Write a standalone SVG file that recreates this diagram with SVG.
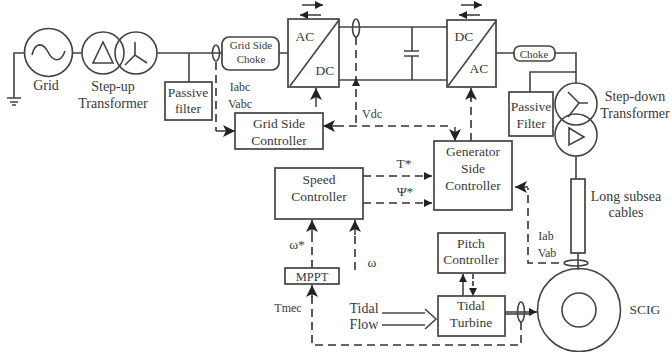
<svg xmlns="http://www.w3.org/2000/svg" width="672" height="352" viewBox="0 0 672 352">
<defs>
<marker id="a" markerUnits="userSpaceOnUse" markerWidth="14" markerHeight="14" refX="12" refY="6" orient="auto"><path d="M0 0L12 6L0 12L3 6Z" fill="#222"/></marker>
<marker id="s" markerUnits="userSpaceOnUse" markerWidth="9" markerHeight="8" refX="8" refY="4" orient="auto"><path d="M0 0L8 4L0 8Z" fill="#222"/></marker>
</defs>
<style>
text{font-family:"Liberation Serif","Times New Roman",serif;fill:#3a3a3a;font-size:13.5px;text-anchor:middle}
.b{fill:#fff;stroke:#444;stroke-width:1.7}
.l{fill:none;stroke:#444;stroke-width:1.6}
.d{fill:none;stroke:#333;stroke-width:1.6;stroke-dasharray:8 5}
.t{font-size:11px}
.w{font-size:14px}
.m{font-size:12px}
</style>
<rect width="672" height="352" fill="#fff"/>
<g id="connectors">
<path class="l" d="M24 53H14V98M7 98H21M10 102H18M12 105H16"/>
<path class="l" d="M72 53H82M157 53H222M189 53V82M279 53H288"/>
<path class="l" d="M339 27H447M339 80H447M412 27V51M412 56V80M404 51H419M404 56H419"/>
<path class="l" d="M496 53H514M555 53H576V83M530 92V72H576"/>
<path class="l" d="M576 156V179M578 253V270"/>
<path class="l" d="M382 313H425M382 325H425M425 309L436 319L425 329"/>
<path class="l" d="M505 312H537" marker-end="url(#s)" stroke-width="2.2"/>
<path class="l" d="M505 314H530"/>
<path class="d" d="M216 62V131"/>
<path class="l" d="M216 131H235" marker-end="url(#a)"/>
<path class="l" d="M316 107V88" marker-end="url(#a)"/>
<path class="d" d="M356 37V126"/>
<path class="l" d="M356 84V78" marker-end="url(#s)"/>
<path class="d" d="M336 126H450"/>
<path class="l" d="M336 126H323" marker-end="url(#a)"/>
<path class="l" d="M455 127V141" marker-end="url(#a)"/>
<path class="d" d="M471 141V95"/>
<path class="l" d="M471 99V88" marker-end="url(#a)"/>
<path class="d" d="M363 176H432" marker-end="url(#s)"/>
<path class="d" d="M363 203H432" marker-end="url(#s)"/>
<path class="d" d="M312 268V232"/>
<path class="l" d="M312 235V220" marker-end="url(#a)"/>
<path class="d" d="M355 270V232"/>
<path class="l" d="M355 235V220" marker-end="url(#a)"/>
<path class="d" d="M521 322V345H312V296"/>
<path class="l" d="M312 298V285" marker-end="url(#a)"/>
<path class="d" d="M559 263H528V188"/>
<path class="l" d="M528 187H515" marker-end="url(#a)"/>
<path class="l" d="M463 296V274" marker-end="url(#s)"/>
<path class="d" d="M473 274V296" marker-end="url(#s)" style="stroke-dasharray:5 2"/>
<path class="l" d="M302 5H323" marker-end="url(#s)"/>
<path class="l" d="M321 15H300" marker-end="url(#s)"/>
<path class="l" d="M461 5H482" marker-end="url(#s)"/>
<path class="l" d="M480 15H459" marker-end="url(#s)"/>
</g>
<g id="grid">
<circle class="b" cx="48.5" cy="52.5" r="24"/>
<path class="l" d="M32 55C35 42 43 42 48 52S61 63 65 51"/>
<text x="46" y="90" class="w">Grid</text>
</g>
<g id="step-up">
<circle class="l" cx="103" cy="53" r="21"/>
<circle class="l" cx="136" cy="53" r="21"/>
<path class="l" d="M93 63H113L103 42ZM135 42V55M125 65L135 55L147 63"/>
<text x="113" y="91" class="w">Step-up</text>
<text x="113" y="108" class="w">Transformer</text>
</g>
<g id="passive-filter-1">
<rect class="b" x="165" y="82" width="47" height="38"/>
<text x="188" y="97">Passive</text>
<text x="188" y="113">filter</text>
</g>
<g id="sensor-abc"><ellipse class="l" cx="216" cy="53" rx="3.5" ry="8"/>
<text x="240" y="91" class="m">Iabc</text>
<text x="240" y="108" class="m">Vabc</text></g>
<g id="grid-choke">
<rect class="b" x="222" y="37" width="57" height="33" rx="7"/>
<text x="251" y="49" class="t">Grid Side</text>
<text x="251" y="63" class="t">Choke</text>
</g>
<g id="acdc">
<rect class="b" x="288" y="19" width="51" height="68"/>
<path class="l" d="M290 86L339 20"/>
<text x="305" y="41">AC</text>
<text x="325" y="75">DC</text>
</g>
<g id="grid-controller">
<rect class="b" x="235" y="113" width="88" height="36"/>
<text x="279" y="128">Grid Side</text>
<text x="279" y="145">Controller</text>
</g>
<g id="sensor-dc"><ellipse class="l" cx="356" cy="28" rx="3.5" ry="9"/>
<text x="372" y="118" class="m">Vdc</text></g>
<g id="dcac">
<rect class="b" x="447" y="20" width="49" height="67"/>
<path class="l" d="M448 86L496 21"/>
<text x="464" y="41">DC</text>
<text x="479" y="73">AC</text>
</g>
<g id="choke">
<rect class="b" x="514" y="46" width="41" height="15" rx="6"/>
<text x="534" y="58" class="t">Choke</text>
</g>
<g id="passive-filter-2">
<rect class="b" x="509" y="92" width="44" height="44"/>
<text x="531" y="111">Passive</text>
<text x="531" y="128">Filter</text>
</g>
<g id="step-down">
<circle class="l" cx="576" cy="104" r="21"/>
<circle class="l" cx="576" cy="135" r="21"/>
<path class="l" d="M568 92L579 103L588 103M579 103L568 117M569 128V145L584 137Z"/>
<text x="635" y="101" class="w">Step-down</text>
<text x="635" y="118" class="w">Transformer</text>
</g>
<g id="generator-controller">
<rect class="b" x="434" y="141" width="78" height="69"/>
<text x="473" y="156">Generator</text>
<text x="473" y="173">Side</text>
<text x="473" y="190">Controller</text>
</g>
<g id="speed-controller">
<rect class="b" x="275" y="168" width="88" height="51"/>
<text x="319" y="184">Speed</text>
<text x="319" y="201">Controller</text>
</g>
<text x="404" y="168">T*</text>
<text x="405" y="196">Ψ*</text>
<text x="297" y="249">ω*</text>
<text x="372" y="267">ω</text>
<g id="mppt">
<rect class="b" x="285" y="268" width="54" height="16"/>
<text x="312" y="281" style="font-size:12.5px">MPPT</text>
</g>
<text x="288" y="312" class="m">Tmec</text>
<text x="364" y="313" class="w">Tidal</text>
<text x="364" y="329" class="w">Flow</text>
<g id="pitch-controller">
<rect class="b" x="438" y="233" width="67" height="40"/>
<text x="471" y="248">Pitch</text>
<text x="471" y="264">Controller</text>
</g>
<g id="tidal-turbine">
<rect class="b" x="438" y="296" width="67" height="40"/>
<text x="471" y="310">Tidal</text>
<text x="471" y="327">Turbine</text>
</g>
<g id="sensor-shaft"><ellipse class="l" cx="521" cy="312" rx="3.5" ry="10"/></g>
<g id="cable">
<rect class="b" x="571" y="179" width="14" height="74"/>
<text x="626" y="201" class="w">Long subsea</text>
<text x="626" y="217" class="w">cables</text>
</g>
<g id="sensor-ab"><ellipse class="l" cx="576" cy="263" rx="12" ry="3"/>
<text x="546" y="240" class="m">Iab</text>
<text x="547" y="257" class="m">Vab</text></g>
<g id="scig">
<circle class="l" cx="579" cy="310" r="41.5"/>
<circle class="l" cx="579" cy="310" r="17"/>
<text x="645" y="314">SCIG</text>
</g>
</svg>
